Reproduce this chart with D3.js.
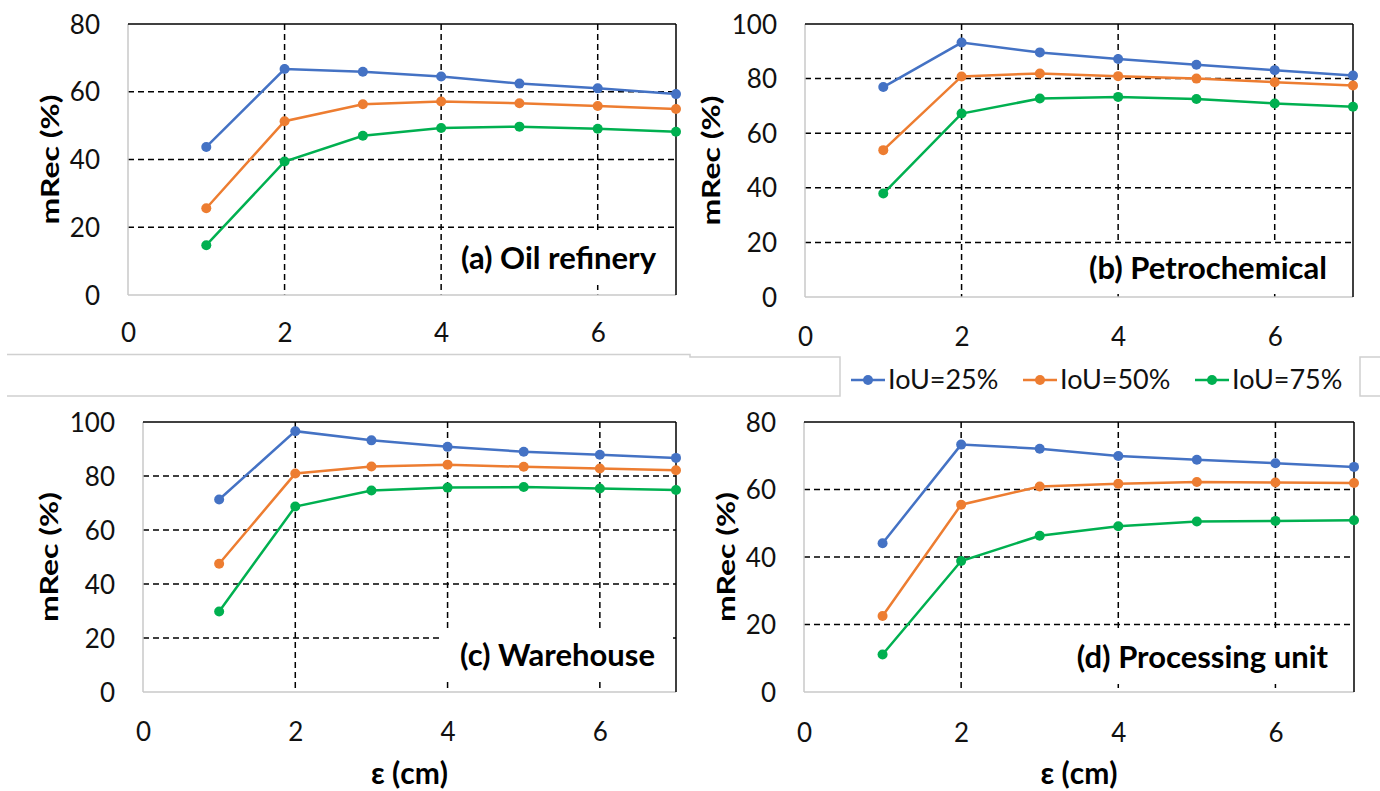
<!DOCTYPE html>
<html>
<head>
<meta charset="utf-8">
<script src="https://cdn.jsdelivr.net/npm/d3@7"></script>
<style>
    body { margin: 0; background: #fff; }
    svg { display: block; font-family: Lato, "Open Sans", sans-serif; }
    .tick text { font-size: 26px; fill: #111; }
    .axisTitle, .panelLabel { font-weight: bold; fill: #000; }
</style>
</head>
<body>
<svg id="chart" width="1380" height="791"></svg>
<script>
// x values (epsilon, cm)
const epsilon = [1, 2, 3, 4, 5, 6, 7];
const seriesNames = ["IoU=25%", "IoU=50%", "IoU=75%"];
const seriesColors = ["#4472C4", "#ED7D31", "#00B050"];
const xTicks = [0, 2, 4, 6];

// (a) Oil refinery
const oilIoU25 = [43.7, 66.7, 65.9, 64.5, 62.4, 61.0, 59.3];
const oilIoU50 = [25.6, 51.3, 56.3, 57.1, 56.6, 55.8, 54.9];
const oilIoU75 = [14.7, 39.4, 47.0, 49.3, 49.7, 49.1, 48.2];
// (b) Petrochemical
const petroIoU25 = [76.9, 93.2, 89.6, 87.2, 85.1, 83.1, 81.1];
const petroIoU50 = [53.8, 80.8, 81.9, 80.9, 80.0, 78.7, 77.5];
const petroIoU75 = [37.9, 67.2, 72.7, 73.3, 72.5, 70.9, 69.7];
// (c) Warehouse
const wareIoU25 = [71.3, 96.6, 93.2, 90.8, 89.0, 87.9, 86.7];
const wareIoU50 = [47.5, 80.9, 83.5, 84.2, 83.4, 82.8, 82.1];
const wareIoU75 = [29.8, 68.7, 74.6, 75.7, 75.9, 75.4, 74.8];
// (d) Processing unit
const procIoU25 = [44.1, 73.3, 72.1, 69.9, 68.8, 67.8, 66.7];
const procIoU50 = [22.5, 55.5, 60.9, 61.7, 62.2, 62.1, 61.9];
const procIoU75 = [11.1, 38.8, 46.3, 49.1, 50.5, 50.7, 50.9];

const yTicks80 = [0, 20, 40, 60, 80];
const yTicks100 = [0, 20, 40, 60, 80, 100];

let svg = d3.select("#chart");

// layout of the four panels (pixel boxes of each plot area)
let panels = [
    {label: "(a) Oil refinery", series: [oilIoU25, oilIoU50, oilIoU75], yMax: 80, yTicks: yTicks80,
        left: 128, right: 676, top: 24, bottom: 295, xLabY: 333, titleX: 50,
        box: [447, 232, 223, 53], showXTitle: false},
    {label: "(b) Petrochemical", series: [petroIoU25, petroIoU50, petroIoU75], yMax: 100, yTicks: yTicks100,
        left: 805, right: 1353, top: 24, bottom: 297, xLabY: 337, titleX: 711,
        box: [1068, 244, 280, 49], showXTitle: false},
    {label: "(c) Warehouse", series: [wareIoU25, wareIoU50, wareIoU75], yMax: 100, yTicks: yTicks100,
        left: 143, right: 676, top: 422, bottom: 692, xLabY: 732, titleX: 49,
        box: [443, 628, 229, 54], showXTitle: true},
    {label: "(d) Processing unit", series: [procIoU25, procIoU50, procIoU75], yMax: 80, yTicks: yTicks80,
        left: 804, right: 1354, top: 422, bottom: 692, xLabY: 733, titleX: 726,
        box: [1060, 630, 285, 54], showXTitle: true}
];

panels.forEach((p) => drawPanel(p));

function drawPanel(p) {
    let g = svg.append("g");

    let xScale = d3.scaleLinear().domain([0, 7]).range([p.left, p.right]);
    let yScale = d3.scaleLinear().domain([0, p.yMax]).range([p.bottom, p.top]);

    //GRID---------------------------------------------------------------
    g.append("g").selectAll("line.h")
        .data(p.yTicks.filter((d) => d > 0 && d < p.yMax))
        .join("line")
        .attr("x1", p.left).attr("x2", p.right)
        .attr("y1", (d) => yScale(d)).attr("y2", (d) => yScale(d))
        .attr("stroke", "#000").attr("stroke-width", 1.5)
        .attr("stroke-dasharray", "6,4");

    g.append("g").selectAll("line.v")
        .data(xTicks.filter((d) => d > 0))
        .join("line")
        .attr("x1", (d) => xScale(d)).attr("x2", (d) => xScale(d))
        .attr("y1", p.top).attr("y2", p.bottom)
        .attr("stroke", "#000").attr("stroke-width", 1.5)
        .attr("stroke-dasharray", "6,4");

    // white box behind the panel label hides the grid
    g.append("rect")
        .attr("x", p.box[0]).attr("y", p.box[1])
        .attr("width", p.box[2]).attr("height", p.box[3])
        .attr("fill", "#fff");

    // plot frame: gray left/bottom, black top/right
    g.append("line").attr("x1", p.left).attr("x2", p.left).attr("y1", p.top).attr("y2", p.bottom)
        .attr("stroke", "#c8c8c8").attr("stroke-width", 1.5);
    g.append("line").attr("x1", p.left).attr("x2", p.right).attr("y1", p.bottom).attr("y2", p.bottom)
        .attr("stroke", "#c8c8c8").attr("stroke-width", 1.5);
    g.append("line").attr("x1", p.left).attr("x2", p.right).attr("y1", p.top).attr("y2", p.top)
        .attr("stroke", "#000").attr("stroke-width", 1.5);
    g.append("line").attr("x1", p.right).attr("x2", p.right).attr("y1", p.top).attr("y2", p.bottom)
        .attr("stroke", "#000").attr("stroke-width", 1.5);

    //AXES---------------------------------------------------------------
    let yAxis = d3.axisLeft(yScale).tickValues(p.yTicks).tickSize(0).tickPadding(28);
    let yAx = g.append("g").attr("transform", "translate(" + p.left + ",0)").call(yAxis);
    yAx.select(".domain").remove();
    yAx.selectAll("text").attr("font-family", "Lato").attr("dy", "0.35em");

    let xAxis = d3.axisBottom(xScale).tickValues(xTicks).tickFormat(d3.format("d")).tickSize(0).tickPadding(0);
    let xAx = g.append("g").attr("transform", "translate(0," + p.xLabY + ")").call(xAxis);
    xAx.select(".domain").remove();
    xAx.selectAll("text").attr("font-family", "Lato").attr("dy", "0.35em");

    // the source figure is horizontally squeezed, so the rotated title is narrowed too
    g.append("text")
        .attr("class", "axisTitle")
        .attr("transform", "translate(" + p.titleX + "," + ((p.top + p.bottom) / 2) + ") scale(0.78,1) rotate(-90)")
        .attr("text-anchor", "middle")
        .attr("dy", "0.35em")
        .attr("font-size", 32)
        .text("mRec (%)");

    if (p.showXTitle) {
        g.append("text")
            .attr("class", "axisTitle")
            .attr("x", (p.left + p.right) / 2 - 0)
            .attr("y", 773)
            .attr("text-anchor", "middle")
            .attr("dy", "0.35em")
            .attr("font-size", 30)
            .text("ε (cm)");
    }

    g.append("text")
        .attr("class", "panelLabel")
        .attr("x", p.box[0] + p.box[2] / 2)
        .attr("y", p.box[1] + p.box[3] / 2)
        .attr("text-anchor", "middle")
        .attr("dy", "0.35em")
        .attr("font-size", 31)
        .text(p.label);

    //LINES--------------------------------------------------------------
    let line = d3.line()
        .x((d, i) => xScale(epsilon[i]))
        .y((d) => yScale(d));

    p.series.forEach((vals, s) => {
        g.append("path")
            .datum(vals)
            .attr("d", line)
            .attr("fill", "none")
            .attr("stroke", seriesColors[s])
            .attr("stroke-width", 2.5);

        g.append("g").selectAll("circle")
            .data(vals)
            .join("circle")
            .attr("cx", (d, i) => xScale(epsilon[i]))
            .attr("cy", (d) => yScale(d))
            .attr("r", 5)
            .attr("fill", seriesColors[s]);
    });
}

//SEPARATORS between the pasted charts-----------------------------------
let sep = svg.append("g").attr("stroke", "#d0d0d0").attr("stroke-width", 1.5).attr("fill", "none");
sep.append("path").attr("d", "M7,354.5 H690 V357 H840 V396 H7");
sep.append("path").attr("d", "M1380,357 H1360 V396 H1380");

//LEGEND------------------------------------------------------------------
let legendX = [851, 1023, 1195];
let legend = svg.append("g").selectAll("g")
    .data(seriesNames)
    .join("g")
    .attr("transform", (d, i) => "translate(" + legendX[i] + ",380)");

legend.append("line")
    .attr("x1", 0).attr("x2", 34)
    .attr("stroke", (d, i) => seriesColors[i])
    .attr("stroke-width", 2.5);
legend.append("circle")
    .attr("cx", 17).attr("r", 5)
    .attr("fill", (d, i) => seriesColors[i]);
legend.append("text")
    .attr("x", 37)
    .attr("dy", "0.35em")
    .attr("font-size", 27)
    .attr("fill", "#111")
    .text((d) => d);
</script>
</body>
</html>
